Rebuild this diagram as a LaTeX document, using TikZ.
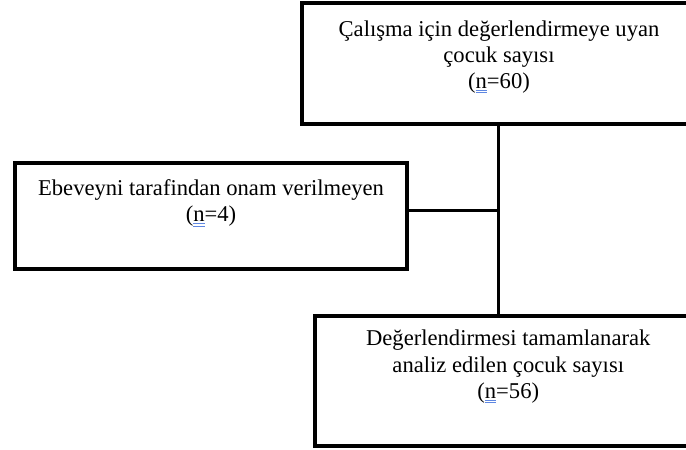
\documentclass[tikz,border=0pt]{standalone}
\usepackage{fontspec}
\setmainfont{Liberation Serif}
\definecolor{ulblue}{RGB}{95,135,225}
\newcommand\nmark{\makebox[0pt][l]{\textcolor{ulblue}{\rule[-2.4pt]{0.5em}{0.9pt}}}\makebox[0pt][l]{\textcolor{ulblue}{\rule[-4.6pt]{0.5em}{0.9pt}}}n}
\tikzset{
  boxstyle/.style={draw, rectangle, line width=4pt, inner sep=0pt},
  conn/.style={line width=2.4pt},
  txt/.style={align=center, inner sep=0pt, anchor=north, font=\fontsize{22.6}{26.2}\selectfont}
}
\begin{document}
\begin{tikzpicture}[x=1pt,y=1pt]
\useasboundingbox (0,0) rectangle (686,450);
\clip (0,0) rectangle (686,450);
\node[boxstyle, minimum width=394pt, minimum height=120.5pt, anchor=north west] (top) at (300,448.5) {};
\node[boxstyle, minimum width=392pt, minimum height=106pt, anchor=north west] (left) at (13,288.5) {};
\node[boxstyle, minimum width=387.5pt, minimum height=130.5pt, anchor=north west] (bot) at (312.5,136) {};
\node[txt] (toptxt) at ([yshift=-19pt]top.north) {Çalışma için değerlendirmeye uyan\\çocuk sayısı\\(\nmark=60)};
\node[txt] (lefttxt) at ([yshift=-18pt]left.north) {Ebeveyni tarafindan onam verilmeyen\\(\nmark=4)};
\node[txt] (bottxt) at ([yshift=-16pt]bot.north) {Değerlendirmesi tamamlanarak\\analiz edilen çocuk sayısı\\(\nmark=56)};
\coordinate (j) at (498.3,239.3);
\draw[conn] (j |- top.south) -- (j |- bot.north);
\draw[conn] (left.east |- j) -- (j);
\end{tikzpicture}
\end{document}
